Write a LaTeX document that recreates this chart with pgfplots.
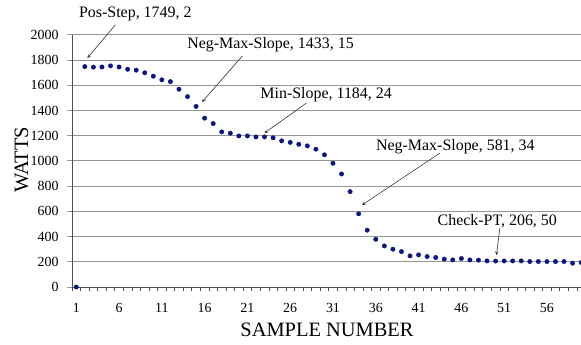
\documentclass[border=0pt]{standalone}
\usepackage{fontspec}
\setmainfont{Liberation Serif}
\usepackage{pgfplots}
\pgfplotsset{compat=1.18}
\definecolor{dotblue}{RGB}{10,20,130}
\definecolor{gridgray}{RGB}{150,150,150}
\definecolor{axgray}{RGB}{80,80,80}
\begin{document}
\begin{tikzpicture}
\begin{axis}[
  scale only axis, width=510bp, height=252bp,
  xmin=0.5, xmax=60.1, ymin=0, ymax=2000,
  axis lines=left, axis line style={-, draw=axgray, line width=0.9bp},
  xtick={1,6,...,56}, minor xtick={0.5,1.5,...,60.5},
  ytick={0,200,...,2000},
  ymajorgrids, major grid style={gridgray, line width=1bp},
  tick align=outside, major tick length=5bp, minor tick length=4bp,
  major x tick style={draw=none},
  minor x tick style={draw=axgray, line width=0.6bp},
  y tick style={draw=gridgray, line width=1bp},
  tick label style={font=\fontsize{14}{16}\selectfont},
  /pgf/number format/assume math mode=true,
  /pgf/number format/1000 sep={},
  xticklabel style={yshift=-8bp},
  yticklabel style={xshift=-5bp},
  xlabel={SAMPLE NUMBER}, ylabel={WATTS},
  every axis x label/.style={at={(axis description cs:0.5,-0.17)}, anchor=center, font=\fontsize{20.5}{22}\selectfont},
  every axis y label/.style={at={(axis description cs:-0.099,0.505)}, anchor=center, rotate=90, font=\fontsize{20.5}{22}\selectfont},
  clip=false,
]
\addplot[only marks, mark=*, mark size=2.2bp, color=dotblue] coordinates {
(1,0) (2,1749) (3,1745) (4,1746) (5,1755) (6,1746) (7,1728) (8,1721) (9,1700) (10,1673)
(11,1644) (12,1630) (13,1570) (14,1511) (15,1433) (16,1340) (17,1297) (18,1231) (19,1221) (20,1199)
(21,1199) (22,1191) (23,1191) (24,1184) (25,1160) (26,1148) (27,1133) (28,1120) (29,1094) (30,1049)
(31,982) (32,897) (33,757) (34,581) (35,451) (36,379) (37,326) (38,300) (39,281) (40,247)
(41,255) (42,242) (43,234) (44,221) (45,215) (46,226) (47,215) (48,213) (49,207) (50,206)
(51,207) (52,207) (53,207) (54,202) (55,202) (56,202) (57,202) (58,202) (59,189) (60,194)
};
\coordinate (bl) at (rel axis cs:0,0);
\begin{scope}[every node/.style={font=\fontsize{16}{18}\selectfont, anchor=center, inner sep=1bp}, arr/.style={-stealth, draw=black!80, line width=0.6bp}]
\node at (axis cs:7.9,2167) {Pos-Step, 1749, 2};
\draw[arr] (axis cs:5.56,2080) -- (axis cs:2.29,1817);
\node at (axis cs:23.7,1921) {Neg-Max-Slope, 1433, 15};
\draw[arr] (axis cs:20.4,1833) -- (axis cs:15.7,1468);
\node at (axis cs:30.2,1524) {Min-Slope, 1184, 24};
\draw[arr] (axis cs:27.9,1460) -- (axis cs:23.0,1222);
\node at (axis cs:45.3,1111) {Neg-Max-Slope, 581, 34};
\draw[arr] (axis cs:43.5,1063) -- (axis cs:34.4,651);
\node at (axis cs:50.2,524) {Check-PT, 206, 50};
\draw[arr] (axis cs:50.5,468) -- (axis cs:50.1,254);
\end{scope}
\end{axis}
\pgfresetboundingbox
\path (bl) ++(-72bp,-58bp) rectangle ++(581bp,345bp);
\end{tikzpicture}
\end{document}
